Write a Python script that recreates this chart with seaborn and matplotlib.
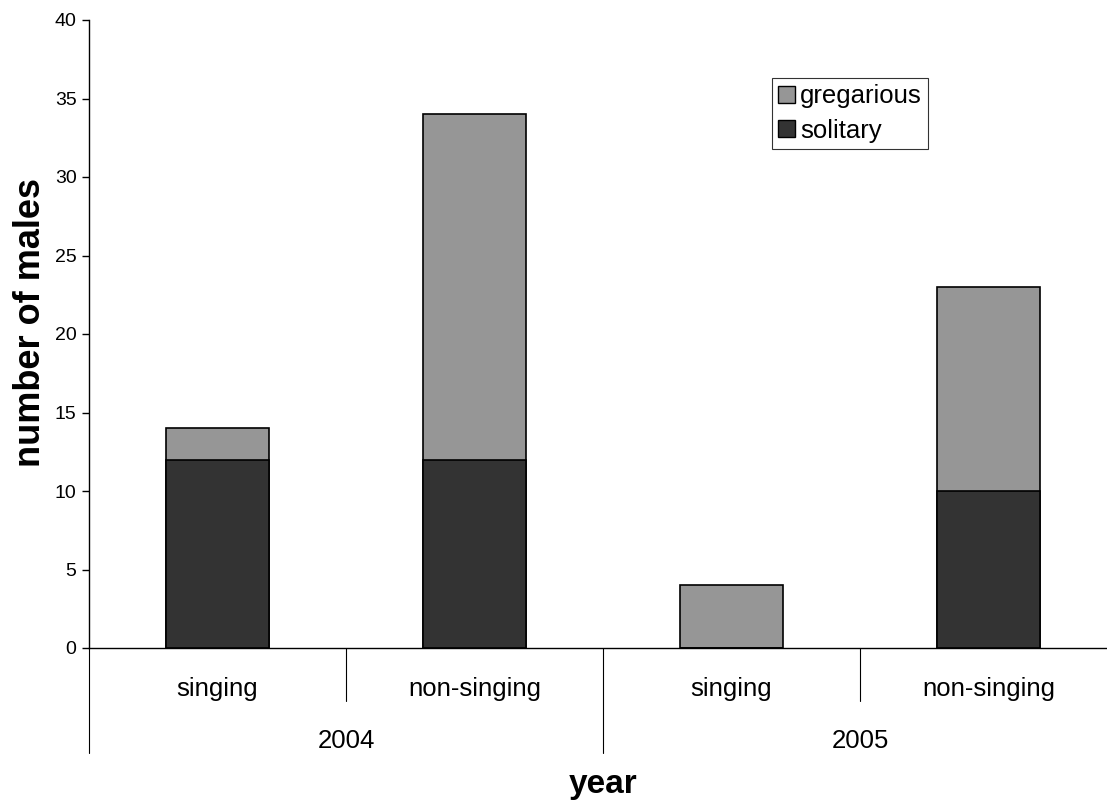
import numpy as np
import pandas as pd
import matplotlib
matplotlib.use("Agg")
import matplotlib.pyplot as plt
import matplotlib.transforms as mtransforms
from matplotlib.patches import Patch
import seaborn as sns

years = ["2004", "2004", "2005", "2005"]
behaviour = ["singing", "non-singing", "singing", "non-singing"]
solitary = [12, 12, 0, 10]
gregarious = [2, 22, 4, 13]

sns.set_style("white")
plt.rcParams['font.family'] = ['Liberation Sans', 'DejaVu Sans']
plt.rcParams['text.color'] = 'black'
plt.rcParams['ytick.color'] = 'black'

df = pd.DataFrame({
    "group": [f"{y} {b}" for y, b in zip(years, behaviour)],
    "solitary": solitary,
    "gregarious": gregarious,
})
df["total"] = df["solitary"] + df["gregarious"]

W, H = 1107, 802
fig = plt.figure(figsize=(W / 100, H / 100), dpi=100)
ax = fig.add_axes([89 / W, 1 - 648 / H, 1028 / W, 628 / H])

c_greg = "#969696"
c_sol = "#333333"

# stacked look: totals in the gregarious colour, solitary drawn over them
sns.barplot(data=df, x="group", y="total", color=c_greg, width=0.4,
            edgecolor="black", linewidth=1.2, saturation=1, ax=ax)
sns.barplot(data=df, x="group", y="solitary", color=c_sol, width=0.4,
            edgecolor="black", linewidth=1.2, saturation=1, ax=ax)

ax.set_xlim(-0.5, 3.5)
ax.set_ylim(0, 40)
ax.set_yticks(np.arange(0, 41, 5))
ax.tick_params(axis="y", direction="out", length=5, width=1, labelsize=14, pad=4, left=True)
ax.tick_params(axis="x", bottom=False, labelbottom=False)
for s in ["top", "right"]:
    ax.spines[s].set_visible(False)
ax.spines["left"].set_color("black")
ax.spines["bottom"].set_color("black")
ax.spines["left"].set_linewidth(1)
ax.spines["bottom"].set_linewidth(1)
ax.set_xlabel("")
ax.set_ylabel("")

# two-level category axis
trans = mtransforms.blended_transform_factory(ax.transData, ax.transAxes)
ax_h = 628
for i, b in enumerate(behaviour):
    ax.text(i, -41 / ax_h, b, transform=trans, ha="center", va="center", fontsize=18.5)
for i in [0.5, 2.5]:
    ax.plot([i, i], [0, -53 / ax_h], transform=trans, color="black", lw=0.8, clip_on=False)
for i in [-0.5, 1.5, 3.5]:
    ax.plot([i, i], [0, -105 / ax_h], transform=trans, color="black", lw=0.8, clip_on=False)
for k, yr in enumerate(sorted(set(years))):
    ax.text(2 * k + 0.5, -93 / ax_h, yr, transform=trans, ha="center", va="center", fontsize=18.5)

fig.text(603 / W, 1 - 785 / H, "year", ha="center", va="center", fontsize=24, fontweight="bold")
fig.text(30 / W, 1 - 323 / H, "number of males", ha="center", va="center", rotation=90,
         fontsize=26, fontweight="bold")

handles = [Patch(facecolor=c_greg, edgecolor="black", label="gregarious"),
           Patch(facecolor=c_sol, edgecolor="black", label="solitary")]
leg = fig.legend(handles=handles, loc="upper left", bbox_to_anchor=(772 / W, 1 - 78 / H),
                 fontsize=18.5, frameon=True, fancybox=False, handlelength=0.65, handleheight=0.65,
                 handletextpad=0.2, borderpad=0.25, labelspacing=0.4, borderaxespad=0)
leg.get_frame().set_edgecolor("black")
leg.get_frame().set_linewidth(0.8)

fig.savefig("out.png", dpi=100)
